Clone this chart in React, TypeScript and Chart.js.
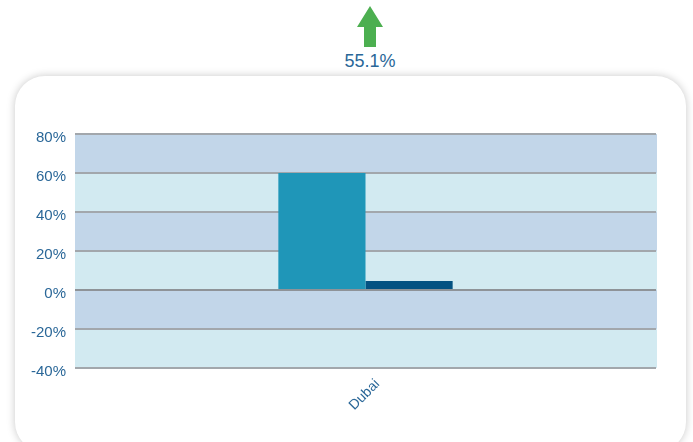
import React, { useEffect, useRef } from "react";
import { Chart, registerables } from "chart.js";

Chart.register(...registerables);

const categories = ["Dubai"];
const seriesCurrent = [60];
const seriesPrevious = [4.6];
const yMin = -40;
const yMax = 80;
const yStep = 20;
const changeLabel = "55.1%";

const TEXT_COLOR = "#2a6798";
const FONT = "'Liberation Sans', Arial, sans-serif";

const bandPlugin = {
  id: "bands",
  beforeDraw(chart: any) {
    const { ctx, chartArea, scales } = chart;
    const y = scales.y;
    const vals = y.ticks.map((t: any) => t.value).sort((a: number, b: number) => b - a);
    ctx.save();
    for (let i = 0; i < vals.length - 1; i++) {
      const top = y.getPixelForValue(vals[i]);
      const bot = y.getPixelForValue(vals[i + 1]);
      ctx.fillStyle = i % 2 === 0 ? "#c2d6e9" : "#d2eaf1";
      ctx.fillRect(chartArea.left, top, chartArea.right - chartArea.left + 1, bot - top);
    }
    ctx.restore();
  },
};

function ChartCanvas() {
  const ref = useRef<HTMLCanvasElement | null>(null);
  useEffect(() => {
    if (!ref.current) return;
    const chart = new Chart(ref.current, {
      type: "bar",
      data: {
        labels: categories,
        datasets: [
          { data: seriesCurrent, backgroundColor: "#1f96b8", barPercentage: 1, categoryPercentage: 0.3 },
          { data: seriesPrevious, backgroundColor: "#045282", barPercentage: 1, categoryPercentage: 0.3 },
        ],
      },
      options: {
        responsive: false,
        animation: false,
        layout: { padding: { top: 134, right: 37, left: 0, bottom: 0 } },
        plugins: { legend: { display: false }, tooltip: { enabled: false } },
        scales: {
          x: {
            grid: { display: false },
            border: { display: false },
            ticks: {
              color: TEXT_COLOR,
              font: { family: FONT, size: 14 },
              minRotation: 45,
              maxRotation: 45,
              padding: 0,
              labelOffset: 12,
            },
            afterFit(scale: any) {
              scale.height = 74;
            },
          },
          y: {
            min: yMin,
            max: yMax,
            border: { display: false },
            grid: {
              drawTicks: false,
              lineWidth: 2,
              color: (c: any) => (c.tick && c.tick.value === 0 ? "#8e9398" : "#a2a7ac"),
            },
            ticks: {
              stepSize: yStep,
              color: TEXT_COLOR,
              padding: 9,
              labelOffset: 4,
              font: { family: FONT, size: 15 },
              callback: (v: any) => v + "%",
            },
            afterFit(scale: any) {
              scale.width = 75;
            },
          },
        },
      },
      plugins: [bandPlugin],
    } as any);
    return () => chart.destroy();
  }, []);
  return (
    <canvas
      ref={ref}
      width={693}
      height={442}
      style={{ position: "absolute", left: 0, top: 0, width: 693, height: 442 }}
    />
  );
}

export default function App() {
  return (
    <div
      style={{
        position: "fixed",
        left: 0,
        top: 0,
        width: 693,
        height: 442,
        overflow: "hidden",
        background: "#ffffff",
      }}
    >
      <div
        style={{
          position: "absolute",
          left: 15,
          top: 76,
          width: 671,
          height: 376,
          borderRadius: 30,
          background: "#ffffff",
          boxShadow: "0 0 9px rgba(0,0,0,0.22)",
        }}
      />
      <svg
        width={30}
        height={44}
        viewBox="0 0 30 44"
        style={{ position: "absolute", left: 355, top: 5 }}
      >
        <polygon points="15,1 28,22 21,22 21,42 9,42 9,22 2,22" fill="#4caf50" />
      </svg>
      <div
        style={{
          position: "absolute",
          left: 320,
          width: 100,
          top: 51,
          textAlign: "center",
          fontFamily: FONT,
          fontSize: 18,
          color: TEXT_COLOR,
          lineHeight: "20px",
        }}
      >
        {changeLabel}
      </div>
      <ChartCanvas />
    </div>
  );
}
